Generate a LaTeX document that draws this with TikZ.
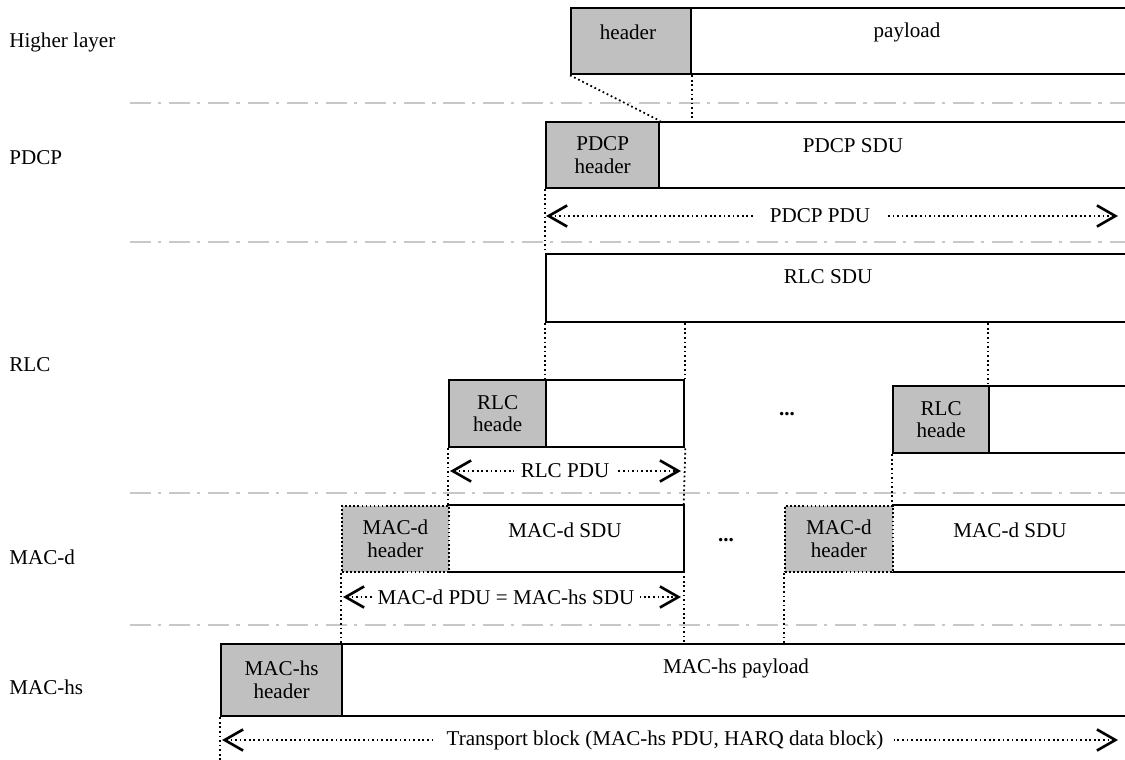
\documentclass[tikz,border=0pt]{standalone}
\usepackage{fontspec}
\setmainfont{Liberation Serif}
\usetikzlibrary{arrows.meta}
\definecolor{hdrgray}{RGB}{192,192,192}
\definecolor{sepgray}{RGB}{200,200,200}
\newcommand\diagfont{\fontsize{12}{13}\selectfont}
\begin{document}
\begin{tikzpicture}[x=0.02cm,y=-0.02cm,
  font=\diagfont,
  blk/.style 2 args={minimum width=#1*0.02cm, minimum height=#2*0.02cm,
    anchor=north west, inner sep=0pt},
  solidbox/.style={draw, line width=1.3pt, fill=white},
  hdrbox/.style={draw, line width=1.3pt, fill=hdrgray, align=center},
  dotbox/.style={draw, line width=1pt, dash pattern=on 1pt off 1.3pt, fill=hdrgray, align=center},
  edge/.style={line width=1.3pt},
  dotline/.style={line width=1pt, dash pattern=on 1pt off 1.6pt},
  layersep/.style={sepgray, line width=1.3pt, dash pattern=on 12pt off 4pt on 1.8pt off 4.5pt},
  barb/.tip={Straight Barb[length=10.5pt,width=12pt,line width=1.5pt]},
  dimarrow/.style={dotline, barb-barb},
  dimlabel/.style={fill=white, inner ysep=1pt, inner xsep=4pt},
  layername/.style={anchor=west, inner sep=0pt},
  txt/.style={inner sep=0pt}]

\clip (0,0) rectangle (1125,760);

% layer separators
\coordinate (s1l) at (130,103);  \coordinate (s1r) at (1125,103);
\coordinate (s2l) at (130,242);  \coordinate (s2r) at (1125,242);
\coordinate (s3l) at (130,493);  \coordinate (s3r) at (1125,493);
\coordinate (s4l) at (130,625);  \coordinate (s4r) at (1125,625);
\draw[layersep] (s1l) -- (s1r);
\draw[layersep] (s2l) -- (s2r);
\draw[layersep] (s3l) -- (s3r);
\draw[layersep] (s4l) -- (s4r);

% layer names
\node[layername] (nHL)  at (9,42)  {Higher layer};
\node[layername] (nPD)  at (9,158) {PDCP};
\node[layername] (nRL)  at (9,365) {RLC};
\node[layername] (nMD)  at (9,557) {MAC-d};
\node[layername] (nMH)  at (9,687) {MAC-hs};

% higher layer
\node[hdrbox, blk={120}{66}] (hlh) at (570,7) {};
\node[solidbox, blk={460}{66}] (hlp) at (690,7) {};
\node[txt] (hlhT) at (628,32) {header};
\node[txt] (hlpT) at (907,32) {payload};

% PDCP
\node[hdrbox, blk={113}{66}] (pdh) at (545,121) {PDCP\\header};
\node[solidbox, blk={480}{66}] (pdp) at (658,121) {};
\node[txt] (pdpT) at (853,146) {PDCP SDU};

% RLC SDU
\node[solidbox, blk={590}{68}] (rsdu) at (545,253) {};
\node[txt] (rsduT) at (828,277) {RLC SDU};

% RLC PDUs
\node[hdrbox, blk={97}{67}] (r1h) at (448,379) {RLC\\heade};
\node[solidbox, blk={138}{67}] (r1p) at (545,379) {};
\node[txt] (dots1) at (787,414) {\bfseries ...};
\node[hdrbox, blk={96}{67}] (r2h) at (892,385) {RLC\\heade};
\node[solidbox, blk={150}{67}] (r2p) at (988,385) {};

% MAC-d PDUs
\node[fill=white, blk={235}{66}] (m1p) at (448,505) {};
\draw[edge] (m1p.north west) -- (m1p.north east) -- (m1p.south east) -- (m1p.south west);
\node[dotbox, blk={107}{66}] (m1h) at (341,505) {MAC-d\\header};
\node[txt] (m1pT) at (565,530) {MAC-d SDU};
\node[txt] (dots2) at (726,540) {\bfseries ...};
\node[fill=white, blk={250}{66}] (m2p) at (892,505) {};
\draw[edge] (m2p.north west) -- (m2p.north east) -- (m2p.south east) -- (m2p.south west);
\node[dotbox, blk={108}{66}] (m2h) at (784,505) {MAC-d\\header};
\node[txt] (m2pT) at (1010,530) {MAC-d SDU};

% MAC-hs PDU
\node[hdrbox, blk={121}{72}] (hsh) at (220,643) {MAC-hs\\header};
\node[solidbox, blk={800}{72}] (hsp) at (341,643) {};
\node[txt] (hspT) at (736,668) {MAC-hs payload};

% mapping lines between layers
\draw[dotline] (hlh.south west) -- (pdh.north east);
\draw[dotline] (hlh.south east) -- (hlh.south east |- pdp.north);
\draw[dotline] (pdh.south west) -- (rsdu.north west);
\draw[dotline] (rsdu.south west) -- (r1p.north west);
\draw[dotline] (r1p.north east |- rsdu.south) -- (r1p.north east);
\draw[dotline] (r2p.north west |- rsdu.south) -- (r2p.north west);
\draw[dotline] (r1h.south west) -- (m1p.north west);
\draw[dotline] (r1p.south east) -- (m1p.north east);
\draw[dotline] (r2h.south west) -- (m2p.north west);
\draw[dotline] (m1h.south west) -- (hsp.north west);
\draw[dotline] (m1p.south east) -- (m1p.south east |- hsp.north);
\draw[dotline] (m2h.south west) -- (m2h.south west |- hsp.north);
\coordinate (tbBot) at (220,760);
\draw[dotline] (hsh.south west) -- (tbBot);

% size arrows
\coordinate (pduL) at (546,216); \coordinate (pduR) at (1118,216);
\draw[dimarrow] (pduL) -- (pduR);
\node[dimlabel, inner xsep=9pt] (pduT) at (820,216) {PDCP PDU};

\coordinate (rpL) at (450,471); \coordinate (rpR) at (681,471);
\draw[dimarrow] (rpL) -- (rpR);
\node[dimlabel] (rpT) at (565,471) {RLC PDU};

\coordinate (mdL) at (343,597); \coordinate (mdR) at (681,597);
\draw[dimarrow] (mdL) -- (mdR);
\node[dimlabel, inner xsep=3pt] (mdT) at (506,597) {MAC-d PDU = MAC-hs SDU};

\coordinate (tbL) at (222,740); \coordinate (tbR) at (1118,740);
\draw[dimarrow] (tbL) -- (tbR);
\node[dimlabel, inner xsep=6pt] (tbT) at (665,740) {Transport block (MAC-hs PDU, HARQ data block)};

\end{tikzpicture}
\end{document}
